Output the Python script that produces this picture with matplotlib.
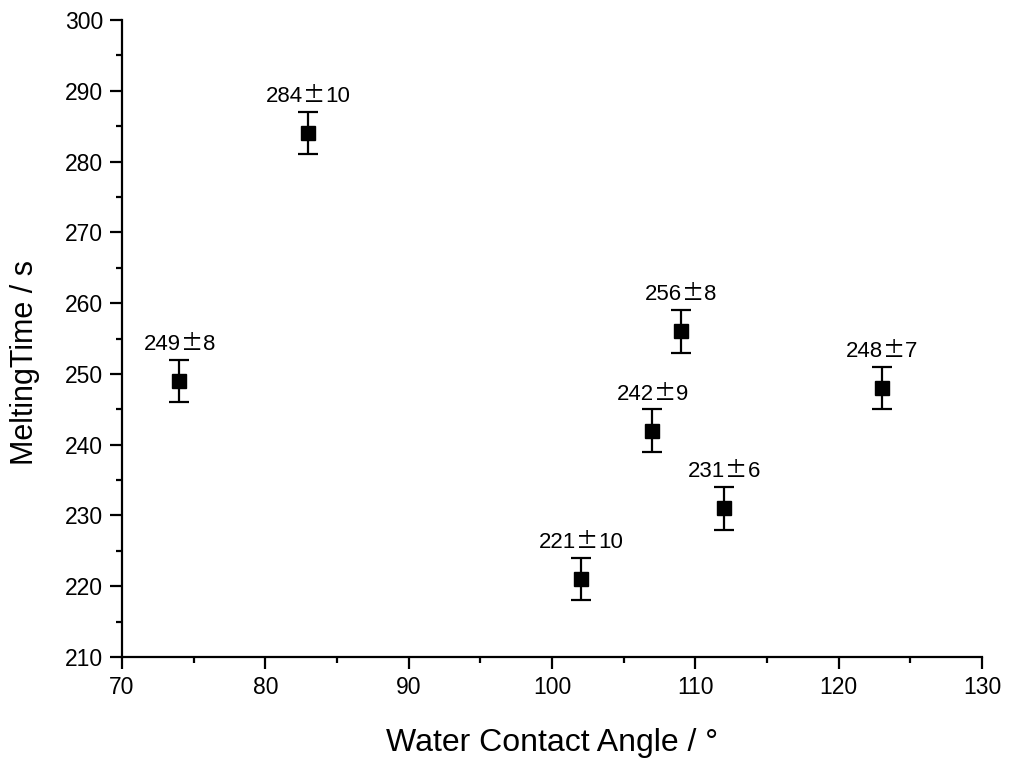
import matplotlib
matplotlib.use("Agg")
import matplotlib.pyplot as plt
from matplotlib.ticker import MultipleLocator

plt.rcParams["font.family"] = ["Liberation Sans", "DejaVu Sans"]

# 数据：接触角、融化时间、图上画出的误差棒、标注文字
angle = [74, 83, 102, 107, 109, 112, 123]
melt_time = [249, 284, 221, 242, 256, 231, 248]
err_drawn = [3, 3, 3, 3, 3, 3, 3]
labels = ["249±8", "284±10", "221±10", "242±9", "256±8", "231±6", "248±7"]

FS = 16  # 标注字号
DIGIT = 0.556 * FS  # Arial 数字宽度（pt）
PM = 1.0 * FS       # 全角 ± 宽度（pt）

fig = plt.figure(figsize=(10.09, 7.6), dpi=100)
ax = fig.add_axes([0.1209, 0.1355, 0.8523, 0.8382])

ax.errorbar(angle, melt_time, yerr=err_drawn, fmt="s", color="black",
            markersize=9.5, capsize=7.5, elinewidth=1.6, capthick=1.6)

# 数字用 Arial 类字体，± 用中文字体（全角），整体居中
for x, y, e, s in zip(angle, melt_time, err_drawn, labels):
    left, right = s.split("±")
    shift = (len(left) - len(right)) * DIGIT / 2
    kw = dict(xy=(x, y + e), textcoords="offset points", va="baseline", fontsize=FS)
    ax.annotate("±", xytext=(shift, 7), ha="center",
                family=["Noto Sans CJK SC", "DejaVu Sans"], **kw)
    ax.annotate(left, xytext=(shift - PM / 2, 7), ha="right", **kw)
    ax.annotate(right, xytext=(shift + PM / 2, 7), ha="left", **kw)

ax.set_xlim(70, 130)
ax.set_ylim(210, 300)
ax.xaxis.set_major_locator(MultipleLocator(10))
ax.xaxis.set_minor_locator(MultipleLocator(5))
ax.yaxis.set_major_locator(MultipleLocator(10))
ax.yaxis.set_minor_locator(MultipleLocator(5))

for side in ["top", "right"]:
    ax.spines[side].set_visible(False)
for side in ["left", "bottom"]:
    ax.spines[side].set_linewidth(1.6)

ax.tick_params(which="major", direction="out", length=8.5, width=1.6, labelsize=16.5, pad=5)
ax.tick_params(which="minor", direction="out", length=4.5, width=1.6)

ax.set_xlabel("Water Contact Angle / °", fontsize=23, labelpad=21)
ax.set_ylabel("MeltingTime / s", fontsize=22)
ax.yaxis.set_label_coords(-0.095, 0.462)

fig.savefig("out.png", dpi=100)
